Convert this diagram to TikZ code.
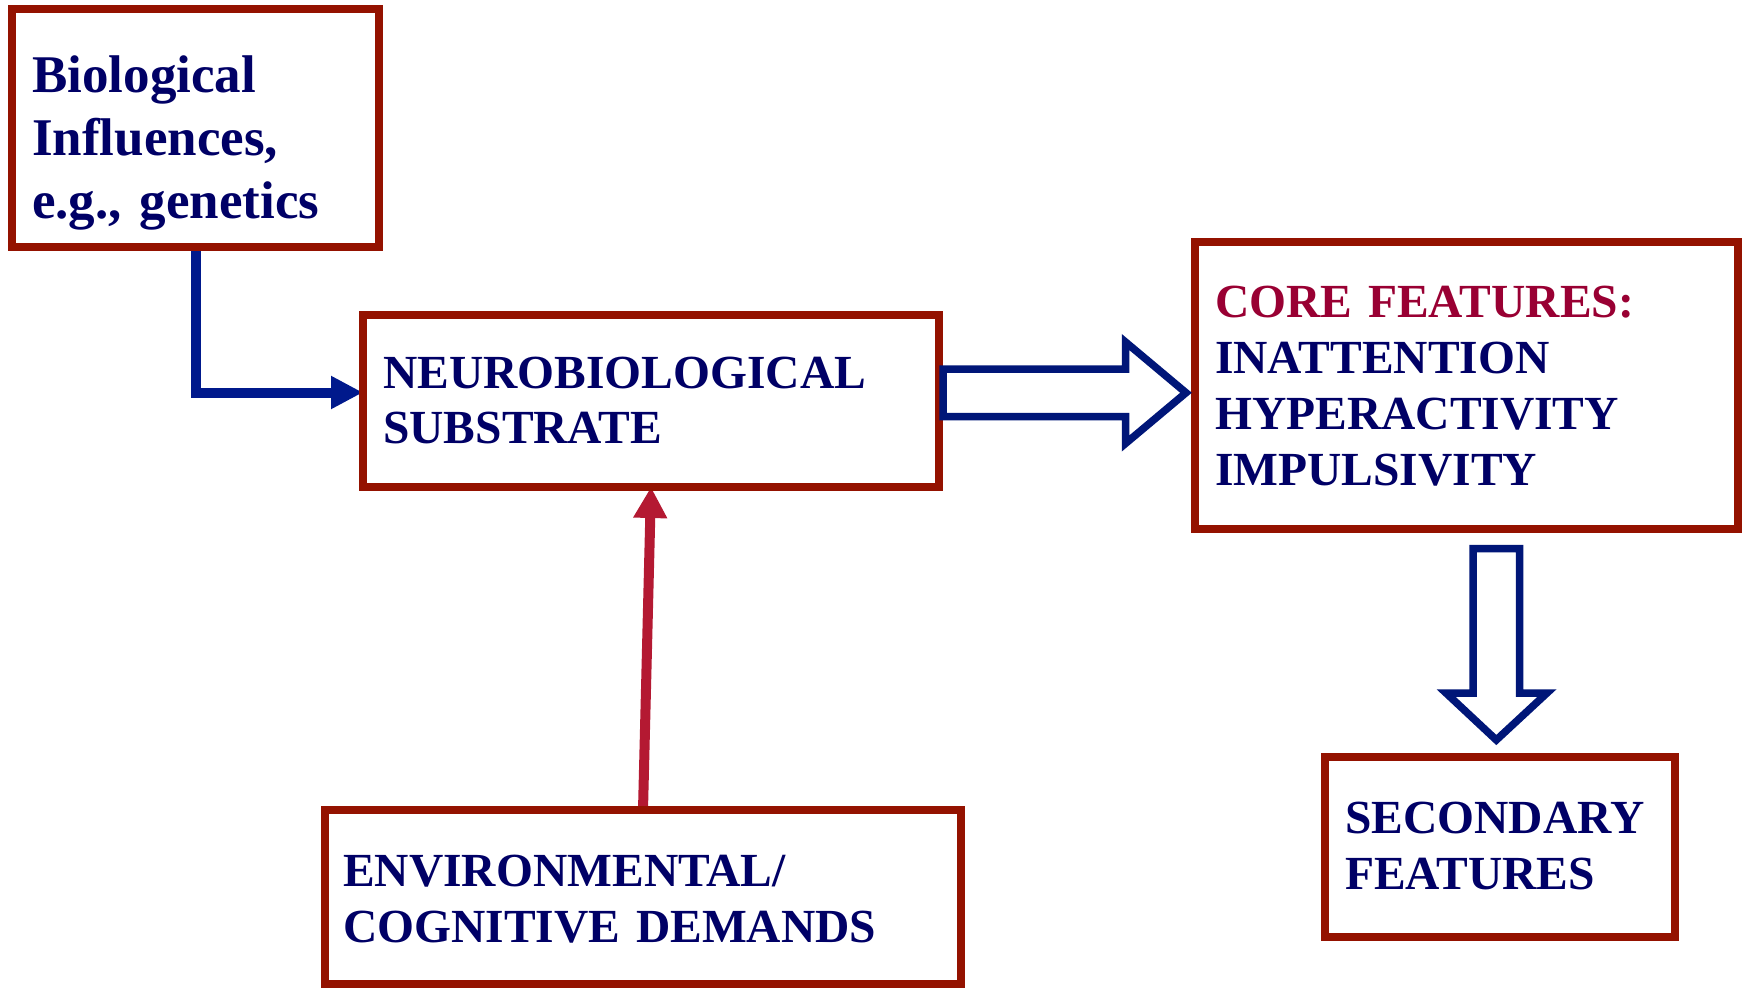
\documentclass[tikz,border=0pt]{standalone}
\usepackage{fontspec}
\setmainfont{Liberation Serif}
\usetikzlibrary{arrows.meta}

\definecolor{boxred}{RGB}{148,18,0}
\definecolor{navytext}{RGB}{0,0,102}
\definecolor{coretext}{RGB}{153,0,51}
\definecolor{linkblue}{RGB}{0,25,140}
\definecolor{hollowblue}{RGB}{0,22,120}
\definecolor{linkred}{RGB}{180,25,50}

\pgfdeclarelayer{background}
\pgfsetlayers{background,main}

\begin{document}
\begin{tikzpicture}[x=1pt,y=-1pt,
  box/.style={draw=boxred, line width=8pt, rectangle, inner sep=0pt, outer sep=0pt},
  label/.style={anchor=base west, inner sep=0pt, text width=560pt, align=left,
    text=navytext, font=\bfseries\fontsize{47.5}{56}\selectfont},
  biglabel/.style={label, font=\bfseries\fontsize{53}{63}\selectfont},
  bluelink/.style={draw=linkblue, line width=10pt,
    -{Triangle[length=32pt,width=31pt]}},
  redlink/.style={draw=linkred, line width=10pt,
    -{Triangle[length=31pt,width=32pt]}},
  hollow/.style={draw=hollowblue, fill=white, line width=7.5pt, miter limit=10}
]
\useasboundingbox (0,0) rectangle (1746,988);

% boxes
\path
  node[box, minimum width=367pt, minimum height=238pt] (b1) at (195.5,128) {}
  node[box, minimum width=576pt, minimum height=172pt] (b2) at (651,401) {}
  node[box, minimum width=543pt, minimum height=287pt] (b3) at (1466.5,385.5) {}
  node[box, minimum width=350pt, minimum height=180pt] (b4) at (1500,847) {}
  node[box, minimum width=636pt, minimum height=174pt] (b5) at (643,897) {};

% connectors, kept behind the box outlines
\begin{pgfonlayer}{background}
  \draw[bluelink] (b1.south) |- ([yshift=8.5pt]b2.west);
  \draw[redlink] (b5.north) -- (b2.south);
\end{pgfonlayer}

% hollow block arrows
\draw[hollow] (943,369) -- (1125.5,369) -- (1125.5,342) -- (1186,392.75)
  -- (1125.5,443.5) -- (1125.5,416.5) -- (943,416.5) -- cycle;
\draw[hollow] (1473,548.7) -- (1519.7,548.7) -- (1519.7,693) -- (1547,693)
  -- (1496.3,740) -- (1446,693) -- (1473,693) -- cycle;

% texts
\node[biglabel] (t1) at (32,92) {Biological\\Influences,\\e.g., genetics};
\node[label, font=\bfseries\fontsize{47.5}{55}\selectfont] (t2) at (383,388)
  {NEUROBIOLOGICAL\\SUBSTRATE};
\node[label] (t3) at (1215,317)
  {\textcolor{coretext}{CORE FEATURES:}\\INATTENTION\\HYPERACTIVITY\\IMPULSIVITY};
\node[label] (t4) at (1345,833) {SECONDARY\\FEATURES};
\node[label] (t5) at (343,886) {ENVIRONMENTAL/\\COGNITIVE DEMANDS};
\end{tikzpicture}
\end{document}
